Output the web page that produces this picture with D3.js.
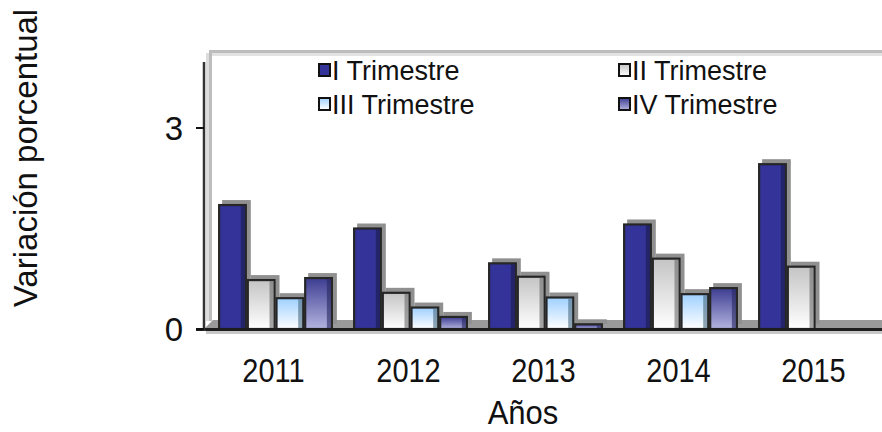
<!DOCTYPE html>
<html>
<head>
<meta charset="utf-8">
<script src="https://cdn.jsdelivr.net/npm/d3@7"></script>
<style>
  body { margin: 0; background: white; }
</style>
</head>
<body>
<div id="chart"></div>
<script>
let years = ["2011", "2012", "2013", "2014", "2015"];
let series = ["I Trimestre", "II Trimestre", "III Trimestre", "IV Trimestre"];
let trim1 = [1.85, 1.50, 0.98, 1.56, 2.46];
let trim2 = [0.73, 0.54, 0.78, 1.05, 0.93];
let trim3 = [0.46, 0.32, 0.47, 0.52, null];
let trim4 = [0.76, 0.18, 0.07, 0.61, null];
let yTicks = [0, 3];

let values = [trim1, trim2, trim3, trim4];
let width = 882, height = 432;
let depth = 5;
let font = "'Liberation Sans', Arial, sans-serif";

let svg = d3.select("#chart").append("svg")
    .attr("width", width)
    .attr("height", height)
    .attr("font-family", font)
    .style("display", "block");

let defs = svg.append("defs");
function gradient(id, x2, y2, stops) {
    let g = defs.append("linearGradient")
        .attr("id", id)
        .attr("x1", 0).attr("y1", 0)
        .attr("x2", x2).attr("y2", y2);
    stops.forEach(s => g.append("stop").attr("offset", s[0]).attr("stop-color", s[1]));
}
gradient("g2", 0, 1, [[0, "#c4c4c4"], [1, "#ffffff"]]);
gradient("g3", 0, 1, [[0, "#9fd0ff"], [1, "#ffffff"]]);
gradient("g4", 0, 1, [[0, "#3d3d92"], [1, "#b4b4e0"]]);
let fills = ["#333399", "url(#g2)", "url(#g3)", "url(#g4)"];
let sides = ["#1a1a4d", "#6b6b6b", "#4a6a80", "#262660"];

let x = d3.scaleBand()
    .domain(years)
    .range([208, 883])
    .paddingInner(0.15)
    .paddingOuter(0.075);
let xs = d3.scaleBand()
    .domain(d3.range(series.length))
    .range([0, x.bandwidth()]);
let y = d3.scaleLinear()
    .domain([0, 4])
    .range([329, 61]);

let x0 = 204, xEnd = width;

// back wall and floor
svg.append("rect")
    .attr("x", x0 + 5).attr("y", y(4) - 11)
    .attr("width", xEnd - x0 - 5).attr("height", 3)
    .style("fill", "#bdbdbd");
svg.append("rect")
    .attr("x", x0 + 8).attr("y", y(4) - 8)
    .attr("width", xEnd - x0 - 8).attr("height", 3)
    .style("fill", "#e2e2e2");
svg.append("rect")
    .attr("x", x0 + 5).attr("y", y(4) - 11)
    .attr("width", 3).attr("height", y(0) - y(4) + 3)
    .style("fill", "#bdbdbd");
svg.append("rect")
    .attr("x", x0 + 2).attr("y", y(4) - 8)
    .attr("width", 3).attr("height", y(0) - y(4))
    .style("fill", "#dcdcdc");
svg.append("path")
    .attr("d", `M${x0},${y(0)} L${x0 + 9},${y(0) - 9} L${xEnd},${y(0) - 9} L${xEnd},${y(0)} Z`)
    .style("fill", "#9a9a9a");

// bars
let bars = [];
years.forEach((yr, i) => {
    values.forEach((s, k) => {
        if (s[i] != null) bars.push({ year: yr, k: k, v: s[i] });
    });
});

let g = svg.selectAll(".bar")
    .data(bars)
    .enter()
    .append("g")
    .attr("class", "bar");
g.append("rect")
    .attr("x", d => x(d.year) + xs(d.k) + depth - 1)
    .attr("y", d => y(d.v) - depth)
    .attr("width", xs.bandwidth())
    .attr("height", d => y(0) - y(d.v))
    .style("fill", "#909090");
g.append("rect")
    .attr("x", d => x(d.year) + xs(d.k) + 1)
    .attr("y", d => y(d.v))
    .attr("width", xs.bandwidth() - 2)
    .attr("height", d => y(0) - y(d.v))
    .style("fill", d => fills[d.k])
    .style("stroke", "#262626")
    .style("stroke-width", 2.2);
g.append("rect")
    .attr("x", d => x(d.year) + xs(d.k) + xs.bandwidth() - 6)
    .attr("y", d => y(d.v) + 1)
    .attr("width", 4)
    .attr("height", d => Math.max(0, y(0) - y(d.v) - 2))
    .style("fill", d => sides[d.k])
    .style("opacity", 0.6);

// floor front edge
svg.append("rect")
    .attr("x", x0 - 8).attr("y", y(0) - 1)
    .attr("width", xEnd - x0 + 8).attr("height", 3)
    .style("fill", "#1e1e1e");
svg.append("rect")
    .attr("x", x0 + 2).attr("y", y(0) + 2)
    .attr("width", xEnd - x0).attr("height", 3)
    .style("fill", "#c8c8c8");

// y axis
svg.append("line")
    .attr("x1", x0).attr("x2", x0)
    .attr("y1", y(4) + 1).attr("y2", y(0) + 2)
    .style("stroke", "#333")
    .style("stroke-width", 2.5);
svg.selectAll(".ytick")
    .data(yTicks)
    .enter()
    .append("line")
    .attr("x1", 196).attr("x2", x0)
    .attr("y1", d => y(d)).attr("y2", d => y(d))
    .style("stroke", "#111")
    .style("stroke-width", 2);
svg.selectAll(".ylabel")
    .data(yTicks)
    .enter()
    .append("text")
    .attr("x", 183)
    .attr("y", d => y(d))
    .attr("dy", "0.36em")
    .attr("text-anchor", "end")
    .attr("font-size", "33px")
    .attr("fill", "#111")
    .text(d => d);

// x labels
svg.selectAll(".xlabel")
    .data(years)
    .enter()
    .append("text")
    .attr("transform", d => `translate(${x(d) + x.bandwidth() / 2 - 2},382) scale(1,1.14)`)
    .attr("text-anchor", "middle")
    .attr("font-size", "29px")
    .attr("fill", "#111")
    .text(d => d);

svg.append("text")
    .attr("transform", "translate(523,424) scale(1,1.1)")
    .attr("text-anchor", "middle")
    .attr("font-size", "31px")
    .attr("fill", "#111")
    .text("Años");

svg.append("text")
    .attr("transform", "translate(37,158) rotate(-90)")
    .attr("text-anchor", "middle")
    .attr("font-size", "33px")
    .attr("fill", "#111")
    .text("Variación porcentual");

// legend
let legendPos = [[318, 70], [618, 70], [318, 104], [618, 104]];
let lg = svg.selectAll(".legend")
    .data(series)
    .enter()
    .append("g")
    .attr("transform", (d, i) => `translate(${legendPos[i][0]},${legendPos[i][1]})`);
lg.append("rect")
    .attr("x", 1).attr("y", -6)
    .attr("width", 11).attr("height", 12)
    .style("fill", (d, i) => fills[i])
    .style("stroke", "#111")
    .style("stroke-width", 2);
lg.append("text")
    .attr("x", 14)
    .attr("dy", "0.36em")
    .attr("font-size", "27px")
    .attr("fill", "#111")
    .text(d => d);
</script>
</body>
</html>
